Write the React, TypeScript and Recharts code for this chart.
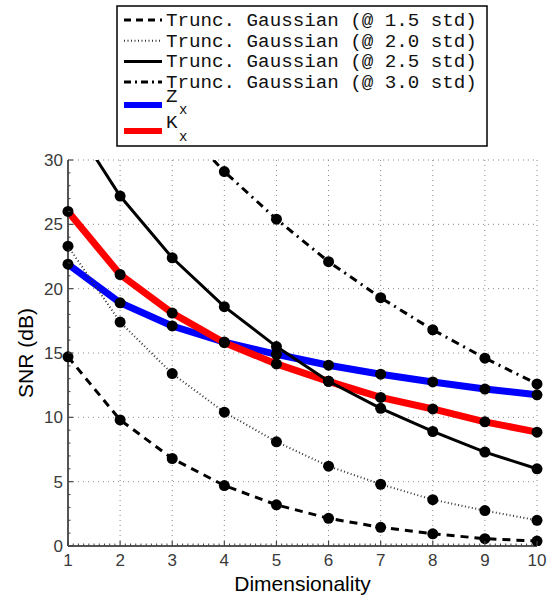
import {
  LineChart,
  Line,
  XAxis,
  YAxis,
  CartesianGrid,
  Label,
} from "recharts";

// dimensionality (x) and SNR values in dB
const dims = [1, 2, 3, 4, 5, 6, 7, 8, 9, 10];
const tg15 = [14.7, 9.8, 6.8, 4.7, 3.2, 2.15, 1.45, 0.95, 0.57, 0.38];
const tg20 = [23.3, 17.4, 13.4, 10.4, 8.1, 6.2, 4.8, 3.6, 2.75, 2.0];
const tg25 = [33.5, 27.2, 22.4, 18.6, 15.5, 12.8, 10.7, 8.9, 7.3, 6.0];
const tg30 = [null, null, 33.4, 29.1, 25.4, 22.1, 19.3, 16.8, 14.6, 12.6];
const zx = [21.9, 18.9, 17.1, 15.85, 14.9, 14.05, 13.35, 12.75, 12.2, 11.75];
const kx = [26.0, 21.1, 18.1, 15.8, 14.15, 12.8, 11.55, 10.65, 9.65, 8.85];
const yTicks = [0, 5, 10, 15, 20, 25, 30];

const data = dims.map((d, i) => ({
  d,
  tg15: tg15[i],
  tg20: tg20[i],
  tg25: tg25[i],
  tg30: tg30[i],
  zx: zx[i],
  kx: kx[i],
}));

const legendItems = [
  { name: "Trunc. Gaussian (@ 1.5 std)", color: "#000", width: 3, dash: "7 5" },
  { name: "Trunc. Gaussian (@ 2.0 std)", color: "#333", width: 2, dash: "1 2.5" },
  { name: "Trunc. Gaussian (@ 2.5 std)", color: "#000", width: 3, dash: undefined },
  { name: "Trunc. Gaussian (@ 3.0 std)", color: "#000", width: 3, dash: "7 4 2 4" },
];

const W = 547;
const H = 595;
const M = { top: 160, right: 10, left: 0, bottom: 0 };
const Y_AXIS_W = 68;
const X_AXIS_H = 49;
const X_STEP = (W - M.left - M.right - Y_AXIS_W) / (dims.length - 1);
const Y_STEP = (H - M.top - M.bottom - X_AXIS_H) / 6;

const mono = "'Liberation Mono', 'DejaVu Sans Mono', monospace";
const sans = "'Liberation Sans', Arial, sans-serif";
const tickColor = "#444";

function Dot(props: any) {
  const { cx, cy } = props;
  if (cx == null || cy == null) return null;
  return <circle cx={cx} cy={cy} r={5.5} fill="#000" />;
}

function XTick(props: any) {
  const { x, y, payload } = props;
  const minors = [];
  if (payload.value < 10) {
    for (let k = 1; k < 10; k++) {
      const mx = x + (k * X_STEP) / 10;
      minors.push(<line key={k} x1={mx} x2={mx} y1={y} y2={y - 2.5} stroke={tickColor} />);
    }
  }
  return (
    <g>
      <line x1={x} x2={x} y1={y} y2={y - 5} stroke={tickColor} strokeWidth={1.2} />
      {minors}
      <text x={x} y={y + 20} textAnchor="middle" fill="#3a3a3a" fontSize={17} fontFamily={sans}>
        {payload.value}
      </text>
    </g>
  );
}

function YTick(props: any) {
  const { x, y, payload } = props;
  const minors = [];
  if (payload.value < 30) {
    for (let k = 1; k < 5; k++) {
      const my = y - (k * Y_STEP) / 5;
      minors.push(<line key={k} x1={x} x2={x + 2.5} y1={my} y2={my} stroke={tickColor} />);
    }
  }
  return (
    <g>
      <line x1={x} x2={x + 5} y1={y} y2={y} stroke={tickColor} strokeWidth={1.2} />
      {minors}
      <text x={x - 5} y={y} dy="0.36em" textAnchor="end" fill="#3a3a3a" fontSize={17} fontFamily={sans}>
        {payload.value}
      </text>
    </g>
  );
}

function LegendBox() {
  return (
    <svg width={373} height={143} style={{ position: "absolute", left: 116, top: 5 }}>
      <rect x={1} y={1} width={370} height={140} fill="#fff" stroke="#000" strokeWidth={1.5} />
      {legendItems.map((it, i) => {
        const y = 15 + i * 20.7;
        return (
          <g key={it.name}>
            <line x1={8} x2={46} y1={y} y2={y} stroke={it.color} strokeWidth={it.width} strokeDasharray={it.dash} />
            <text x={50} y={y + 6} fontFamily={mono} fontSize={19.2} fill="#111">
              {it.name}
            </text>
          </g>
        );
      })}
      <line x1={8} x2={46} y1={100} y2={100} stroke="#0000ff" strokeWidth={6} />
      <text x={50} y={97} fontFamily={mono} fontSize={19.2} fill="#111">Z</text>
      <text x={63} y={109} fontFamily={mono} fontSize={14} fill="#111">x</text>
      <line x1={8} x2={46} y1={126} y2={126} stroke="#ff0000" strokeWidth={6} />
      <text x={50} y={123} fontFamily={mono} fontSize={19.2} fill="#111">K</text>
      <text x={63} y={136} fontFamily={mono} fontSize={14} fill="#111">x</text>
    </svg>
  );
}

export default function App() {
  return (
    <div style={{ position: "absolute", left: 0, top: 0, width: W, height: H, background: "#fff" }}>
      <LineChart width={W} height={H} data={data} margin={M}>
        <CartesianGrid stroke="#888" strokeDasharray="1 4" />
        <XAxis
          dataKey="d"
          type="number"
          domain={[1, 10]}
          ticks={dims}
          height={X_AXIS_H}
          axisLine={{ stroke: "#555", strokeWidth: 2 }}
          tickLine={false}
          tickSize={0}
          tickMargin={0}
          tick={<XTick />}
        >
          <Label value="Dimensionality" position="insideBottom" offset={4} fill="#000" fontSize={21} fontFamily={sans} />
        </XAxis>
        <YAxis
          type="number"
          domain={[0, 30]}
          ticks={yTicks}
          allowDataOverflow
          width={Y_AXIS_W}
          axisLine={{ stroke: "#555", strokeWidth: 2 }}
          tickLine={false}
          tickSize={0}
          tickMargin={0}
          tick={<YTick />}
        >
          <Label value="SNR (dB)" angle={-90} position="insideLeft" offset={26} fill="#000" fontSize={21} fontFamily={sans} style={{ textAnchor: "middle" }} />
        </YAxis>
        <Line type="linear" dataKey="zx" stroke="#0000ff" strokeWidth={7} dot={<Dot />} isAnimationActive={false} />
        <Line type="linear" dataKey="kx" stroke="#ff0000" strokeWidth={7} dot={<Dot />} isAnimationActive={false} />
        <Line type="linear" dataKey="tg15" stroke="#000" strokeWidth={3} strokeDasharray="8 6" dot={<Dot />} isAnimationActive={false} />
        <Line type="linear" dataKey="tg20" stroke="#333" strokeWidth={2} strokeDasharray="1 2.5" dot={<Dot />} isAnimationActive={false} />
        <Line type="linear" dataKey="tg25" stroke="#000" strokeWidth={3} dot={<Dot />} isAnimationActive={false} />
        <Line type="linear" dataKey="tg30" stroke="#000" strokeWidth={3} strokeDasharray="8 5 2 5" dot={<Dot />} isAnimationActive={false} />
      </LineChart>
      <LegendBox />
    </div>
  );
}
